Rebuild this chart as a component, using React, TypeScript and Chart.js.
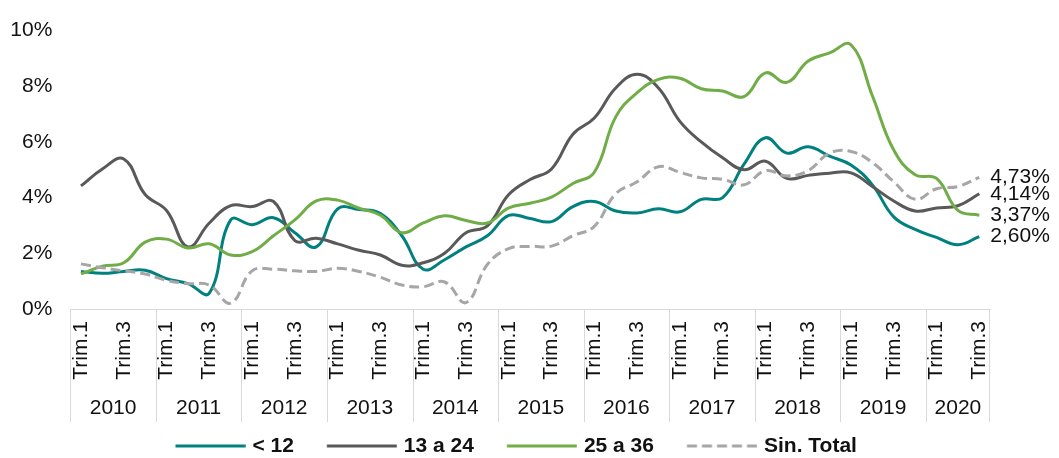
import { useEffect, useRef } from 'react';
import { Chart, registerables } from 'chart.js';

Chart.register(...registerables);

const FONT = '"Liberation Sans", Arial, Helvetica, sans-serif';

const years = ['2010', '2011', '2012', '2013', '2014', '2015', '2016', '2017', '2018', '2019', '2020'];
const quartersPerYear = [4, 4, 4, 4, 4, 4, 4, 4, 4, 4, 3];
const quarterNames = ['Trim.1', 'Trim.2', 'Trim.3', 'Trim.4'];
const shownQuarterTicks = ['Trim.1', 'Trim.3'];
const yTicks = [0, 2, 4, 6, 8, 10];

const seriesNames = ['< 12', '13 a 24', '25 a 36', 'Sin. Total'];

const lt12 = [
  1.35, 1.28, 1.35, 1.39, 1.09, 0.91, 0.57, 3.2, 3.03, 3.28, 2.74,
  2.23, 3.6, 3.57, 3.43, 2.63, 1.43, 1.77, 2.23, 2.63, 3.36, 3.25,
  3.14, 3.68, 3.86, 3.52, 3.45, 3.6, 3.49, 3.94, 4.0, 5.2, 6.15,
  5.6, 5.83, 5.49, 5.17, 4.46, 3.31, 2.86, 2.57, 2.31, 2.6,
];
const m13to24 = [
  4.42, 5.03, 5.39, 4.11, 3.54, 2.23, 3.09, 3.71, 3.68, 3.86, 2.46,
  2.54, 2.34, 2.11, 1.94, 1.57, 1.66, 2.0, 2.74, 2.99, 4.11, 4.65,
  5.03, 6.28, 6.86, 7.94, 8.43, 7.94, 6.74, 6.0, 5.43, 5.0, 5.31,
  4.69, 4.8, 4.88, 4.89, 4.4, 3.88, 3.52, 3.63, 3.71, 4.14,
];
const m25to36 = [
  1.26, 1.54, 1.66, 2.4, 2.51, 2.19, 2.34, 1.94, 2.06, 2.63, 3.2,
  3.88, 3.91, 3.62, 3.37, 2.74, 3.09, 3.35, 3.18, 3.09, 3.63, 3.8,
  4.02, 4.51, 4.91, 6.9, 7.77, 8.25, 8.29, 7.91, 7.83, 7.63, 8.48,
  8.14, 8.91, 9.2, 9.49, 7.66, 5.71, 4.82, 4.69, 3.54, 3.37,
];
const sinTotal = [
  1.62, 1.48, 1.37, 1.26, 1.03, 0.91, 0.86, 0.21, 1.37, 1.43, 1.37,
  1.35, 1.46, 1.35, 1.14, 0.86, 0.8, 0.97, 0.23, 1.6, 2.17, 2.25,
  2.26, 2.63, 2.97, 4.14, 4.57, 5.11, 4.91, 4.71, 4.66, 4.46, 4.97,
  4.78, 4.97, 5.6, 5.66, 5.26, 4.57, 3.94, 4.32, 4.4, 4.73,
];

const seriesValues = [lt12, m13to24, m25to36, sinTotal];
const seriesColors = ['#00807F', '#595959', '#70AD47', '#A6A6A6'];
const seriesDash: number[][] = [[], [], [], [10, 5]];

const categories: string[] = [];
years.forEach((_, yi) => {
  for (let q = 0; q < quartersPerYear[yi]; q++) {
    categories.push(quarterNames[q]);
  }
});

const LEGEND_LINE_W = 70;
const LEGEND_BOX_W = 66.5;
const LEGEND_SHIFT = -14;

function makeLegendSwatch(color: string, dash: number[]) {
  // canvas is centred on the legend box; the line starts at the box's left edge
  const half = LEGEND_LINE_W - LEGEND_BOX_W / 2;
  const c = document.createElement('canvas');
  c.width = Math.ceil(half * 2);
  c.height = 4;
  const g = c.getContext('2d')!;
  const x0 = c.width / 2 - LEGEND_BOX_W / 2;
  g.strokeStyle = color;
  g.lineWidth = 3;
  g.setLineDash(dash);
  g.beginPath();
  g.moveTo(x0, 2);
  g.lineTo(x0 + LEGEND_LINE_W, 2);
  g.stroke();
  return c;
}

const yearAxisPlugin = {
  id: 'yearAxis',
  afterLayout(chart: any) {
    const lg = chart.legend;
    if (lg) {
      lg.left += LEGEND_SHIFT;
      lg.right += LEGEND_SHIFT;
    }
  },
  afterDraw(chart: any) {
    const xs = chart.scales.x;
    const ctx = chart.ctx as CanvasRenderingContext2D;
    const area = chart.chartArea;
    const step = xs.getPixelForValue(1) - xs.getPixelForValue(0);
    const top = area.bottom;
    const bottom = area.bottom + 113;
    ctx.save();
    ctx.strokeStyle = '#D9D9D9';
    ctx.lineWidth = 1;
    ctx.fillStyle = '#111';
    ctx.font = `21px ${FONT}`;
    ctx.textAlign = 'center';
    ctx.textBaseline = 'middle';
    let start = 0;
    years.forEach((label, yi) => {
      const n = quartersPerYear[yi];
      const first = xs.getPixelForValue(start);
      const last = xs.getPixelForValue(start + n - 1);
      const left = first - step / 2;
      const right = last + step / 2;
      const lx = Math.round(left) + 0.5;
      ctx.beginPath();
      ctx.moveTo(lx, top);
      ctx.lineTo(lx, bottom);
      ctx.stroke();
      if (yi === years.length - 1) {
        const rx = Math.round(right) - 0.5;
        ctx.beginPath();
        ctx.moveTo(rx, top);
        ctx.lineTo(rx, bottom);
        ctx.stroke();
      }
      ctx.fillText(label, (first + last) / 2, area.bottom + 99);
      start += n;
    });
    ctx.restore();
  },
  afterDatasetsDraw(chart: any) {
    const ctx = chart.ctx as CanvasRenderingContext2D;
    ctx.save();
    ctx.fillStyle = '#111';
    ctx.font = `21px ${FONT}`;
    ctx.textAlign = 'left';
    ctx.textBaseline = 'middle';
    chart.data.datasets.forEach((ds: any, i: number) => {
      const meta = chart.getDatasetMeta(i);
      const pt = meta.data[meta.data.length - 1];
      const v = ds.data[ds.data.length - 1] as number;
      if (!pt) return;
      ctx.fillText(v.toFixed(2).replace('.', ',') + '%', pt.x + 11, pt.y);
    });
    ctx.restore();
  },
};

export default function App() {
  const canvasRef = useRef<HTMLCanvasElement | null>(null);

  useEffect(() => {
    if (!canvasRef.current) return;
    Chart.defaults.font.family = FONT;
    const swatches = seriesColors.map((c, i) => makeLegendSwatch(c, seriesDash[i]));
    const chart = new Chart(canvasRef.current, {
      type: 'line',
      data: {
        labels: categories,
        datasets: seriesNames.map((name, i) => ({
          label: name,
          data: seriesValues[i],
          borderColor: seriesColors[i],
          backgroundColor: seriesColors[i],
          borderWidth: 3,
          borderDash: seriesDash[i],
          pointRadius: 0,
          pointHoverRadius: 0,
          tension: 0.42,
          fill: false,
          order: seriesNames.length - i,
        })),
      },
      options: {
        animation: false,
        responsive: true,
        maintainAspectRatio: false,
        events: [],
        layout: { padding: { left: 10, right: 69, top: 18, bottom: -8.5 } },
        plugins: {
          tooltip: { enabled: false },
          legend: {
            position: 'bottom',
            fullSize: false,
            labels: {
              usePointStyle: true,
              pointStyleWidth: LEGEND_BOX_W,
              padding: 33,
              color: '#111',
              font: { family: FONT, size: 21, weight: 'bold' },
              sort: (a: any, b: any) => a.datasetIndex - b.datasetIndex,
              generateLabels: (ch: any) => {
                const items = (Chart.defaults.plugins.legend.labels as any).generateLabels(ch);
                items.forEach((it: any) => {
                  it.pointStyle = swatches[it.datasetIndex];
                });
                return items;
              },
            },
          },
        },
        scales: {
          x: {
            type: 'category',
            offset: true,
            grid: { display: false, drawTicks: false },
            border: { display: true, color: '#D9D9D9', width: 1 },
            ticks: {
              autoSkip: false,
              minRotation: 90,
              maxRotation: 90,
              padding: 12,
              color: '#111',
              font: { family: FONT, size: 21 },
              callback: (_v: any, idx: number) =>
                shownQuarterTicks.includes(categories[idx]) ? categories[idx] : '',
            },
            afterFit: (s: any) => {
              s.height = 93.5;
            },
          },
          y: {
            min: yTicks[0],
            max: yTicks[yTicks.length - 1],
            grid: { display: false, drawTicks: false },
            border: { display: false },
            afterBuildTicks: (s: any) => {
              s.ticks = yTicks.map((v) => ({ value: v }));
            },
            ticks: {
              padding: 18,
              color: '#111',
              font: { family: FONT, size: 21 },
              callback: (v: any) => `${v}%`,
            },
            afterFit: (s: any) => {
              s.width = 60.3;
            },
          },
        },
      },
      plugins: [yearAxisPlugin],
    });
    return () => chart.destroy();
  }, []);

  return (
    <div style={{ position: 'fixed', left: 0, top: 0, width: 1059, height: 458, background: '#fff' }}>
      <canvas ref={canvasRef} />
    </div>
  );
}
